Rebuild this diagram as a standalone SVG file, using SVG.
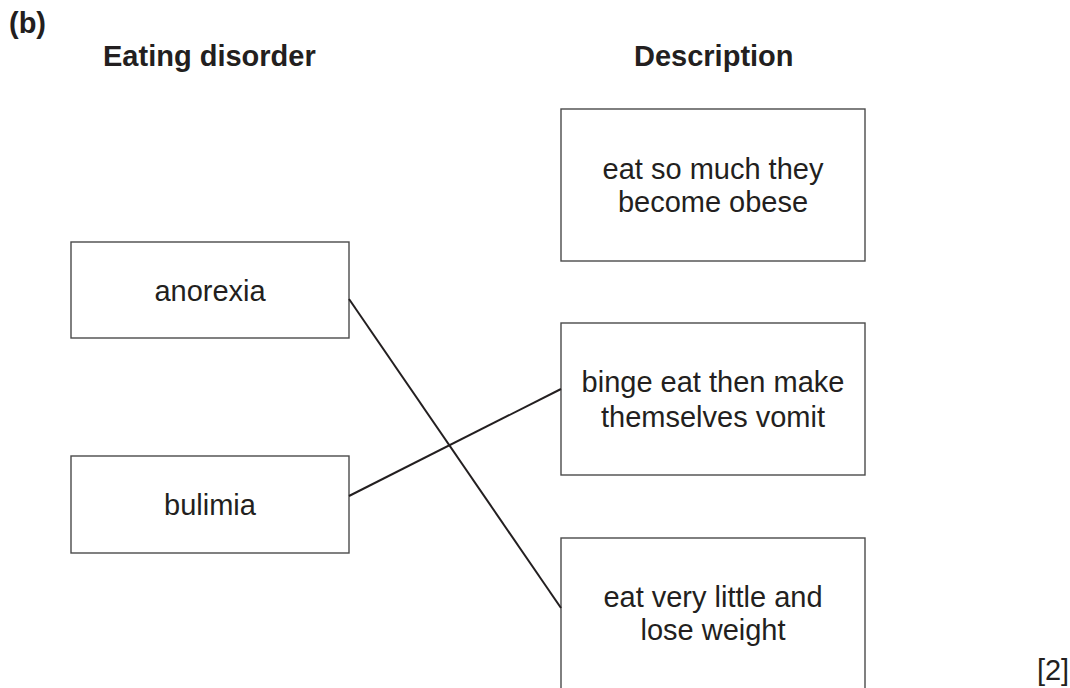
<svg xmlns="http://www.w3.org/2000/svg" width="1070" height="688" viewBox="0 0 1070 688">
<style>
.box{fill:#fff;stroke:#4a4a4a;stroke-width:1.4}
.t{font-family:"Liberation Sans",Arial,sans-serif;font-size:29px;fill:#231f20;text-anchor:middle}
.h{font-family:"Liberation Sans",Arial,sans-serif;font-size:29px;font-weight:bold;fill:#231f20}
.conn{stroke:#231f20;stroke-width:2;fill:none}
</style>
<rect width="1070" height="688" fill="#fff"/>
<text class="h" x="9" y="33">(b)</text>
<text class="h" x="103" y="65.5">Eating disorder</text>
<text class="h" x="634" y="65.5">Description</text>
<g id="anorexia"><rect class="box" x="71" y="242" width="278" height="96"/><text class="t" x="210" y="301">anorexia</text></g>
<g id="bulimia"><rect class="box" x="71" y="456" width="278" height="97"/><text class="t" x="210" y="515">bulimia</text></g>
<g id="obese"><rect class="box" x="561" y="109" width="304" height="152"/><text class="t" x="713" y="179">eat so much they</text><text class="t" x="713" y="212">become obese</text></g>
<g id="vomit"><rect class="box" x="561" y="323" width="304" height="152"/><text class="t" x="713" y="392">binge eat then make</text><text class="t" x="713" y="427">themselves vomit</text></g>
<g id="little"><rect class="box" x="561" y="538" width="304" height="160"/><text class="t" x="713" y="607">eat very little and</text><text class="t" x="713" y="640">lose weight</text></g>
<g id="connectors">
<line class="conn" x1="349" y1="299" x2="561" y2="608"/>
<line class="conn" x1="349" y1="496" x2="561" y2="389"/>
</g>
<text class="t" x="1053" y="680">[2]</text>
</svg>
